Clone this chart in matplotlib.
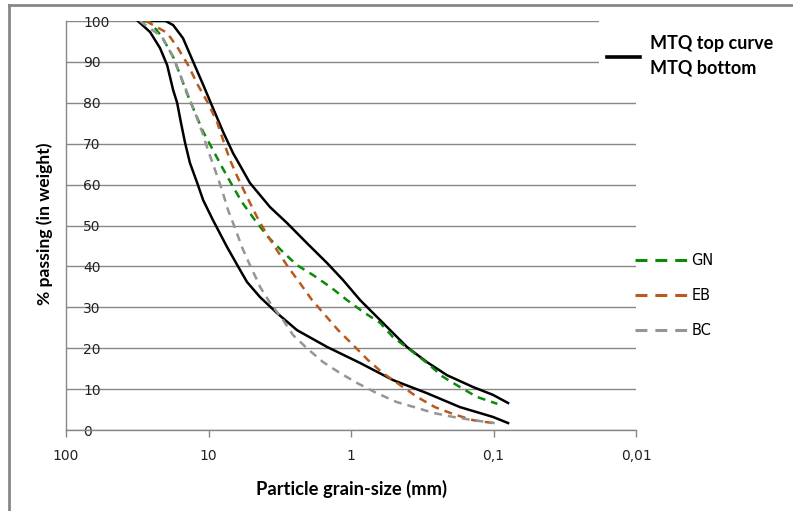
import numpy as np
import matplotlib.pyplot as plt
from matplotlib.lines import Line2D
from matplotlib.patches import Rectangle

# grain-size curves: sieve size (mm) vs % passing
top_size = [28, 20, 17.7, 15.1, 12.8, 10.9, 9.3, 7.9, 6.73, 6.31, 5.12, 3.70, 2.81, 2.04,
            1.47, 1.14, 0.865, 0.70, 0.559, 0.405, 0.293, 0.212, 0.139, 0.101, 0.079]
top_pass = [100, 100, 99.0, 95.8, 90.0, 84.4, 78.7, 72.9, 67.7, 66.0, 60.4, 54.5, 50.6, 45.7,
            40.8, 36.7, 31.8, 28.6, 25.2, 20.3, 16.6, 13.4, 10.5, 8.6, 6.6]

bot_size = [31.3, 25.7, 21.9, 19.5, 17.7, 16.6, 15.6, 14.6, 13.5, 12.0, 10.9, 9.3, 7.4, 6.0,
            5.37, 4.35, 3.31, 2.39, 1.47, 0.865, 0.507, 0.293, 0.172, 0.101, 0.079]
bot_pass = [100, 97.3, 93.4, 89.2, 83.1, 80.0, 75.1, 70.2, 65.3, 60.4, 56.2, 51.3, 44.7, 39.1,
            36.2, 32.5, 28.6, 24.4, 20.3, 16.4, 12.2, 9.0, 5.6, 3.2, 1.7]

gn_size = [28.4, 25.7, 21.2, 17.7, 15.8, 14.2, 12.4, 10.9, 9.45, 8.04, 6.84, 5.82, 4.72, 3.82,
           3.00, 2.39, 1.85, 1.40, 1.07, 0.824, 0.625, 0.507, 0.385, 0.293, 0.226, 0.172,
           0.131, 0.094]
gn_pass = [100, 99.8, 96.1, 91.2, 86.8, 82.4, 77.5, 72.9, 68.9, 64.3, 59.9, 55.7, 51.3, 47.2,
           43.5, 40.3, 37.9, 35.0, 31.8, 28.9, 26.2, 22.7, 19.6, 16.4, 13.0, 10.5, 8.1, 6.4]

eb_size = [27.5, 19.5, 16.4, 13.9, 11.9, 10.1, 8.7, 7.9, 7.06, 6.21, 5.37, 4.57, 3.88, 3.31,
           2.77, 2.28, 1.88, 1.52, 1.23, 0.968, 0.760, 0.596, 0.453, 0.344, 0.258, 0.192,
           0.139, 0.101]
eb_pass = [100, 97.1, 93.4, 89.2, 84.4, 80.0, 75.3, 70.9, 66.0, 61.6, 57.0, 52.1, 47.7, 44.0,
           39.9, 35.9, 31.8, 28.1, 24.4, 20.8, 17.1, 13.9, 11.0, 8.1, 5.6, 3.9, 2.4, 1.7]

bc_size = [30.3, 21.2, 17.7, 15.8, 13.9, 12.4, 11.1, 10.1, 9.0, 8.04, 7.3, 6.52, 5.82, 5.12,
           4.57, 4.35, 3.70, 3.00, 2.55, 2.04, 1.57, 1.19, 0.908, 0.658, 0.475, 0.344, 0.266,
           0.192, 0.139, 0.098]
bc_pass = [100, 96.1, 91.2, 86.8, 81.9, 77.5, 72.9, 68.5, 63.6, 58.7, 53.8, 49.4, 44.7, 40.3,
           36.7, 35.0, 31.1, 26.9, 23.2, 20.0, 16.6, 13.9, 11.5, 9.0, 6.8, 5.4, 4.2, 3.2, 2.4, 1.7]

x_ticks = [100, 10, 1, 0.1, 0.01]
x_labels = ['100', '10', '1', '0,1', '0,01']
y_ticks = list(range(0, 101, 10))

grid_gray = '#878787'
colors = {'GN': '#0A8A0A', 'EB': '#B85A1E', 'BC': '#959595'}

fig = plt.figure(figsize=(7.93, 5.11), dpi=100)
ax = fig.add_axes([66 / 793, 1 - 430 / 511, 570 / 793, 409 / 511])

dash = (3.2, 2.4)
ax.plot(top_size, top_pass, color='black', lw=1.8, zorder=3)
ax.plot(bot_size, bot_pass, color='black', lw=1.8, zorder=3)
ax.plot(gn_size, gn_pass, color=colors['GN'], lw=1.8, dashes=dash, zorder=4)
ax.plot(eb_size, eb_pass, color=colors['EB'], lw=1.8, dashes=dash, zorder=4)
ax.plot(bc_size, bc_pass, color=colors['BC'], lw=1.8, dashes=dash, zorder=4)

ax.set_xscale('log')
ax.set_xlim(100, 0.01)
ax.set_ylim(0, 100)
ax.set_xticks(x_ticks)
ax.set_xticklabels(x_labels)
ax.xaxis.set_minor_locator(plt.NullLocator())
ax.set_yticks(y_ticks)
ax.set_yticklabels([str(v) for v in y_ticks])

ax.tick_params(axis='x', length=5, width=1, color=grid_gray, pad=9,
               labelsize=10, labelcolor='#222222')
ax.tick_params(axis='y', length=0, pad=-12.3, labelsize=10, labelcolor='#222222')
for lab in ax.get_yticklabels():
    lab.set_horizontalalignment('left')

ax.grid(axis='y', color=grid_gray, lw=1.0)
ax.set_axisbelow(True)
for side in ['top', 'right']:
    ax.spines[side].set_visible(False)
for side in ['left', 'bottom']:
    ax.spines[side].set_color(grid_gray)
    ax.spines[side].set_linewidth(1.0)

ax.set_xlabel('Particle grain-size (mm)', family='Lato', fontweight='bold', fontsize=13.2,
              labelpad=12)
fig.text(45 / 793, 1 - 224 / 511, '% passing (in weight)', family='Lato', fontweight='bold',
         fontsize=12.6, rotation=90, ha='center', va='center')

# white patch behind the black-curve legend hides the gridlines there
ax.add_patch(Rectangle((599 / 793, 1 - 95 / 511), 40 / 793, 82 / 511, transform=fig.transFigure,
                       facecolor='white', edgecolor='none', zorder=1, clip_on=False))

mtq = Line2D([], [], color='black', lw=2.6)
leg1 = ax.legend([mtq], ['MTQ top curve\nMTQ bottom'], loc='upper left',
                 bbox_to_anchor=(607 / 793, 1 - 35 / 511), bbox_transform=fig.transFigure,
                 frameon=False, borderpad=0, borderaxespad=0, handlelength=1.83,
                 handletextpad=0.55, prop={'family': 'Lato', 'weight': 'bold', 'size': 13})
for t in leg1.get_texts():
    t.set_linespacing(1.55)
ax.add_artist(leg1)

handles = [Line2D([], [], color=colors[k], lw=2.2, dashes=(3.9, 2.6)) for k in ['GN', 'EB', 'BC']]
ax.legend(handles, ['GN', 'EB', 'BC'], loc='upper left',
          bbox_to_anchor=(635 / 793, 1 - 253 / 511), bbox_transform=fig.transFigure,
          frameon=False, borderpad=0, borderaxespad=0, handlelength=3.56,
          handletextpad=0.3, labelspacing=1.36, prop={'size': 10.5})

# outer chart frame
fig.add_artist(Line2D([9 / 793, 1], [1 - 5 / 511, 1 - 5 / 511], color=grid_gray, lw=2,
                      transform=fig.transFigure))
fig.add_artist(Line2D([9 / 793, 9 / 793], [0, 1 - 5 / 511], color=grid_gray, lw=2,
                      transform=fig.transFigure))

fig.savefig('out.png', dpi=100)
